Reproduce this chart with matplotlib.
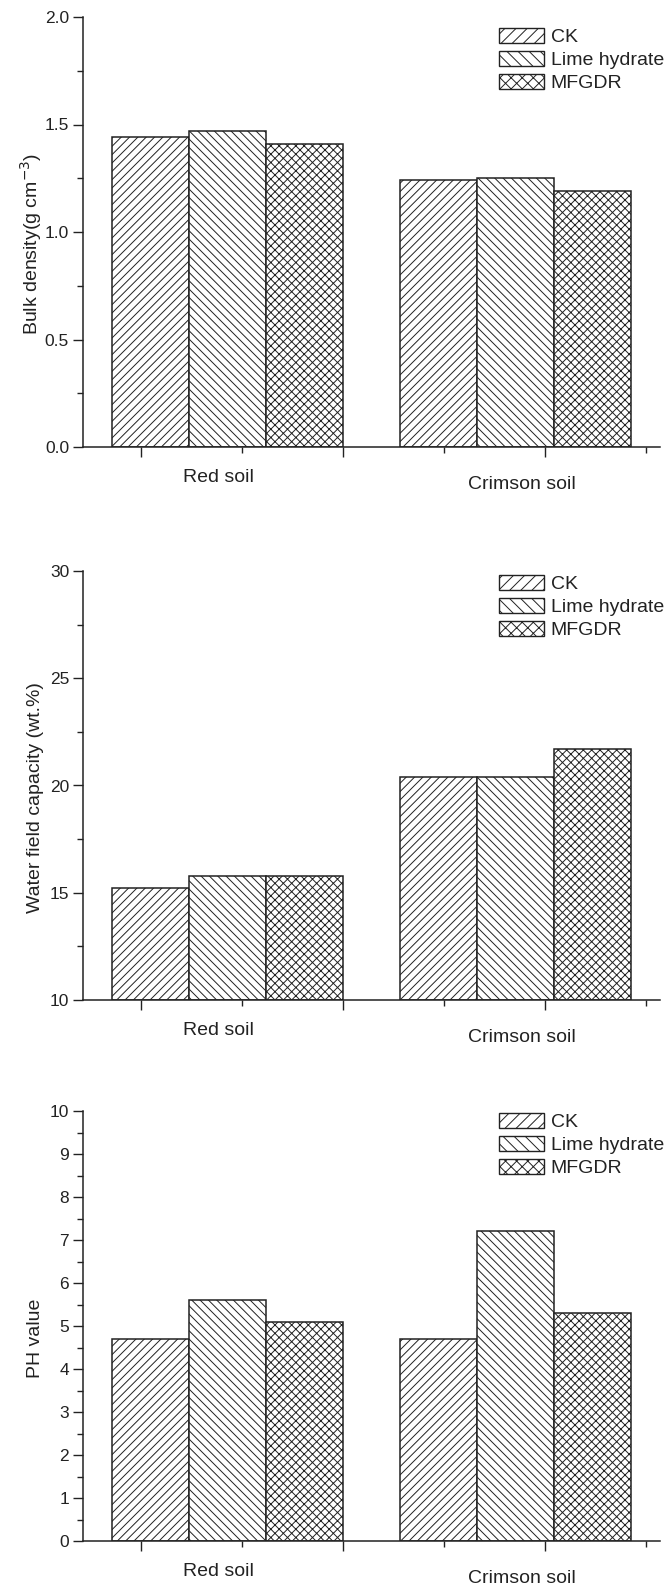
import numpy as np
import matplotlib
matplotlib.use("Agg")
import matplotlib.pyplot as plt
from matplotlib.patches import Patch
from matplotlib.ticker import MultipleLocator, FixedLocator

plt.rcParams['font.family'] = ['Liberation Sans', 'DejaVu Sans']

soils = ['Red soil', 'Crimson soil']
treatments = ['CK', 'Lime hydrate', 'MFGDR']
hatches = ['////', '\\\\\\\\', 'xxxx']
legend_hatches = ['///', '\\\\\\', 'xxx']

bulk_density = [[1.44, 1.24], [1.47, 1.25], [1.41, 1.19]]
water_capacity = [[15.2, 20.4], [15.8, 20.4], [15.8, 21.7]]
ph_value = [[4.7, 4.7], [5.6, 7.2], [5.1, 5.3]]

ylabels = ['Bulk density(g cm$^{-3}$)', 'Water field capacity (wt.%)', 'PH value']
ylims = [(0, 2.0), (10, 30), (0, 10)]
ymajor = [0.5, 5, 1]
yminor = [0.25, 2.5, 0.5]
yfmt = ['%.1f', '%d', '%d']

W, H = 670, 1587
fig = plt.figure(figsize=(W / 100, H / 100), dpi=100)

ink = '#222222'
plt.rcParams['hatch.linewidth'] = 0.7
plt.rcParams['hatch.color'] = ink

# panel extents in pixels: (top, bottom)
panels = [(17, 447), (571, 1000), (1111, 1541)]
legend_tops = [28, 575, 1113]
left, right = 83, 660

x = np.arange(len(soils))
w = 0.267

for k, data in enumerate([bulk_density, water_capacity, ph_value]):
    top, bot = panels[k]
    ax = fig.add_axes([left / W, 1 - bot / H, (right - left) / W, (bot - top) / H])
    base = ylims[k][0]
    for i in range(len(treatments)):
        vals = np.array(data[i])
        ax.bar(x + (i - 1) * w, vals - base, w, bottom=base, color='white',
               edgecolor=ink, linewidth=1.1, hatch=hatches[i])
    ax.set_xlim(-0.5, 1.5)
    ax.set_ylim(*ylims[k])
    for s in ['top', 'right']:
        ax.spines[s].set_visible(False)
    for s in ['left', 'bottom']:
        ax.spines[s].set_color(ink)
        ax.spines[s].set_linewidth(1.1)
    ax.yaxis.set_major_locator(MultipleLocator(ymajor[k]))
    ax.yaxis.set_minor_locator(MultipleLocator(yminor[k]))
    ax.yaxis.set_major_formatter(matplotlib.ticker.FormatStrFormatter(yfmt[k]))
    ax.xaxis.set_major_locator(FixedLocator([-0.3, 0.4, 1.1]))
    ax.xaxis.set_minor_locator(FixedLocator([0.05, 0.75, 1.45]))
    ax.set_xticklabels([])
    ax.tick_params(axis='both', which='major', direction='out', length=7,
                   width=1.0, color=ink, labelsize=12.5, labelcolor=ink, pad=3)
    ax.tick_params(axis='both', which='minor', direction='out', length=4,
                   width=1.0, color=ink)
    ax.set_ylabel(ylabels[k], fontsize=14, color=ink)
    ax.yaxis.set_label_coords(-0.067, 0.472)
    ax.text(-0.03, -0.072, soils[0], transform=ax.get_xaxis_transform(),
            ha='center', va='center', fontsize=14, color=ink)
    ax.text(1.02, -0.088, soils[1], transform=ax.get_xaxis_transform(),
            ha='center', va='center', fontsize=14, color=ink)

    handles = [Patch(facecolor='white', edgecolor=ink, linewidth=1.0,
                     hatch=legend_hatches[i]) for i in range(3)]
    fig.legend(handles, treatments, loc='upper left',
               bbox_to_anchor=(499 / W, 1 - legend_tops[k] / H),
               frameon=False, fontsize=14, handlelength=2.3, handleheight=0.8,
               handletextpad=0.35, labelspacing=0.25, borderpad=0,
               borderaxespad=0, labelcolor=ink)

fig.savefig('out.png', dpi=100)
